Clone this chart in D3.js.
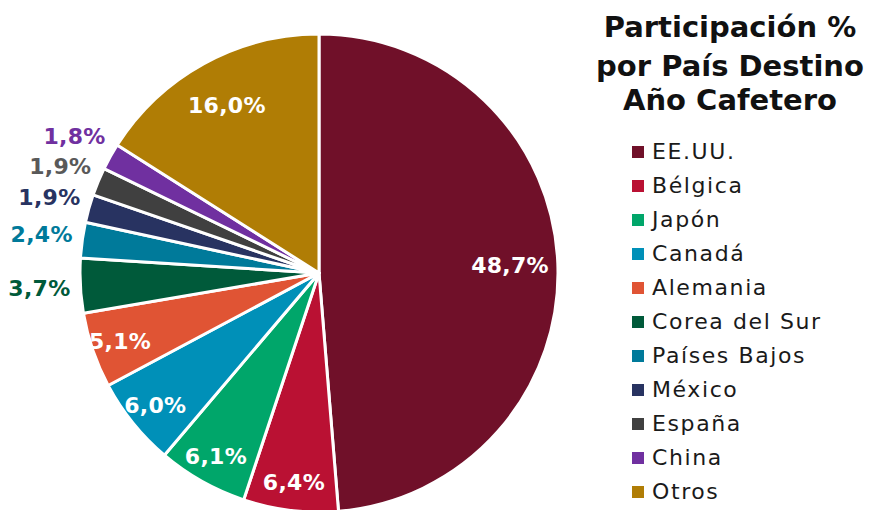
<!DOCTYPE html>
<head>
  <meta charset="utf-8" />
  <script src="https://d3js.org/d3.v7.min.js"></script>
  <style>
    body { margin: 0; background: #fff; }
    text { font-family: "DejaVu Sans", sans-serif; }
  </style>
</head>
<body>
<script>
  // datos
  var paises = ["EE.UU.", "Bélgica", "Japón", "Canadá", "Alemania", "Corea del Sur",
                "Países Bajos", "México", "España", "China", "Otros"];
  var valores = [48.7, 6.4, 6.1, 6.0, 5.1, 3.7, 2.4, 1.9, 1.9, 1.8, 16.0];
  var colores = ["#701029", "#ba1133", "#00a66a", "#0090b8", "#e05434", "#005a3a",
                 "#007a9a", "#283361", "#404040", "#7030a0", "#b07d05"];
  var coloresEtiqueta = ["#fff", "#fff", "#fff", "#fff", "#fff", "#005a3a",
                 "#007a9a", "#283361", "#595959", "#7030a0", "#fff"];
  var titulo = ["Participación %", "por País Destino", "Año Cafetero"];

  var width = 869, height = 510;
  var cx = 319, cy = 273, R = 239;

  var svg = d3.select("body").append("svg")
    .attr("width", width).attr("height", height);

  var datos = paises.map(function (p, i) { return { pais: p, valor: valores[i], i: i }; });

  var pie = d3.pie().sort(null).value(function (d) { return d.valor; });
  var arc = d3.arc().innerRadius(0).outerRadius(R);
  var arcos = pie(datos);

  var g = svg.append("g").attr("transform", "translate(" + cx + "," + cy + ")");

  g.selectAll("path")
    .data(arcos)
    .join("path")
    .attr("d", arc)
    .attr("fill", function (d) { return colores[d.data.i]; })
    .attr("stroke", "#fff")
    .attr("stroke-width", 3)
    .attr("stroke-linejoin", "round");

  function fmt(v) { return v.toFixed(1).replace(".", ",") + "%"; }

  // etiquetas: dentro para las grandes, fuera para las pequeñas
  function radioEtiqueta(d) {
    if (d.data.valor > 10) return R * 0.80;
    if (d.data.valor >= 5) return R * 0.88;
    return R + 41;
  }
  g.selectAll("text.etiq")
    .data(arcos)
    .join("text")
    .attr("class", "etiq")
    .attr("transform", function (d) {
      var r = radioEtiqueta(d);
      var a = (d.startAngle + d.endAngle) / 2;
      return "translate(" + (r * Math.sin(a)) + "," + (-r * Math.cos(a)) + ")";
    })
    .attr("text-anchor", "middle")
    .attr("dy", "0.36em")
    .attr("fill", function (d) { return coloresEtiqueta[d.data.i]; })
    .style("font-size", "22px")
    .style("font-weight", "bold")
    .style("letter-spacing", "0.3px")
    .text(function (d) { return fmt(d.data.valor); });

  // titulo
  svg.append("g").selectAll("text")
    .data(titulo)
    .join("text")
    .attr("x", 730)
    .attr("y", function (d, i) { return [37, 76, 110][i]; })
    .attr("text-anchor", "middle")
    .attr("fill", "#111")
    .style("font-size", "29px")
    .style("font-weight", "bold")
    .text(function (d) { return d; });

  // leyenda
  var ley = svg.append("g").selectAll("g")
    .data(paises)
    .join("g")
    .attr("transform", function (d, i) { return "translate(632," + (152 + i * 34) + ")"; });
  ley.append("rect")
    .attr("x", 0).attr("y", -6).attr("width", 12).attr("height", 12)
    .attr("fill", function (d, i) { return colores[i]; });
  ley.append("text")
    .attr("x", 20).attr("y", 7)
    .attr("fill", "#1a1a1a")
    .style("font-size", "22px")
    .style("letter-spacing", "1.6px")
    .text(function (d) { return d; });
</script>
</body>
